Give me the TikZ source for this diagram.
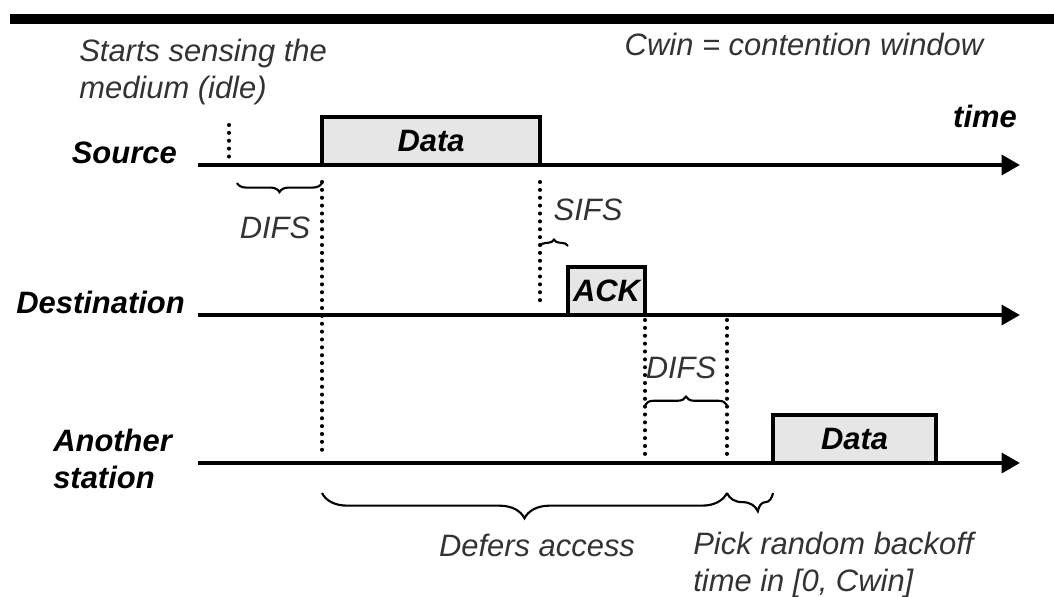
\documentclass[tikz,border=0pt]{standalone}
\usepackage{fontspec}
\setmainfont{Liberation Sans}
\usetikzlibrary{arrows.meta,decorations.pathreplacing}

\definecolor{slotFill}{HTML}{E6E6E6}
\definecolor{noteInk}{HTML}{333333}

\tikzset{
    >={Triangle[length=13pt,width=14pt]},
    lane/.style={->, line width=2.8pt},
    rule/.style={line width=7pt},
    slot/.style={draw, fill=slotFill, line width=2.8pt, outer sep=0pt, inner sep=0pt, minimum height=1.2cm, anchor=south west, font=\fontsize{22}{26}\selectfont\bfseries\itshape},
    guide/.style={line width=2.9pt, line cap=round, dash pattern=on 0pt off 5.6pt},
    span/.style={decorate, decoration={brace, amplitude=#1}, line width=1.5pt},
    span/.default=6pt,
    note/.style={inner sep=0pt, text=noteInk, font=\fontsize{22}{26}\selectfont\itshape},
    tag/.style={inner sep=0pt, font=\fontsize{22}{26}\selectfont\bfseries\itshape}
}

\begin{document}
\begin{tikzpicture}[x=0.025cm, y=-0.025cm]
    \useasboundingbox (0,0) rectangle (1054,597);
    % lanes and time marks
    \coordinate (src) at (198,165);
    \coordinate (dst) at (198,315);
    \coordinate (oth) at (198,463);
    \coordinate (tsense) at (229,0);
    \coordinate (tdata) at (322,0);
    \coordinate (tsifs) at (540,0);
    \coordinate (tack) at (568,0);
    \coordinate (tfree) at (645,0);
    \coordinate (tdifs) at (727,0);
    \coordinate (tsend) at (773,0);
    \coordinate (tend) at (1020,0);

    \draw[rule] (10,19) -- (1054,19);

    % texts
    \node[note, anchor=north west, align=left] (sensing) at (79,39) {Starts sensing the\\medium (idle)};
    \node[note, anchor=base] (cwin) at (804,56) {Cwin = contention window};
    \node[tag, anchor=base] (time) at (985,128) {time};
    \node[tag, anchor=base east] (srcname) at (177,164) {Source};
    \node[tag, anchor=base east] (dstname) at (185,313) {Destination};
    \node[tag, anchor=north west, align=left] (othname) at (53,429) {Another\\station};
    \node[note, anchor=base] (difs1) at (275,239) {DIFS};
    \node[note, anchor=base] (sifs) at (588,221) {SIFS};
    \node[note, anchor=base] (difs2) at (681,378) {DIFS};
    \node[note, anchor=base] (defer) at (537,556) {Defers access};
    \node[note, anchor=north west, align=left] (backoff) at (693,532) {Pick random backoff\\time in [0, Cwin]};

    % dotted time marks
    \draw[guide] (tsense |- 0,125) -- (tsense |- 0,158);
    \draw[guide] (tdata |- 0,182) -- (tdata |- 0,457);
    \draw[guide] (tsifs |- 0,182) -- (tsifs |- 0,305);
    \draw[guide] (tfree |- 0,320) -- (tfree |- 0,457);
    \draw[guide] (tdifs |- 0,320) -- (tdifs |- 0,457);

    % intervals
    \draw[span=6.5pt] (tdata |- 0,183) -- (237,183);
    \draw[span=4.5pt] (tsifs |- 0,246) -- (tack |- 0,246);
    \draw[span=6pt] (tfree |- 0,405) -- (tdifs |- 0,405);
    \draw[span=18pt] (tdifs |- 0,493) -- (tdata |- 0,493);
    \draw[decorate, decoration={brace, amplitude=13pt, aspect=0.33}, line width=1.5pt] (tsend |- 0,493) -- (tdifs |- 0,493);

    % frames on the medium
    \node[slot, minimum width=5.45cm] (data) at (tdata |- src) {Data};
    \node[slot, minimum width=1.925cm] (ack) at (tack |- dst) {ACK};
    \node[slot, minimum width=4.075cm] (data2) at (tsend |- oth) {Data};

    \draw[lane] (src) -- (tend |- src);
    \draw[lane] (dst) -- (tend |- dst);
    \draw[lane] (oth) -- (tend |- oth);
\end{tikzpicture}
\end{document}
